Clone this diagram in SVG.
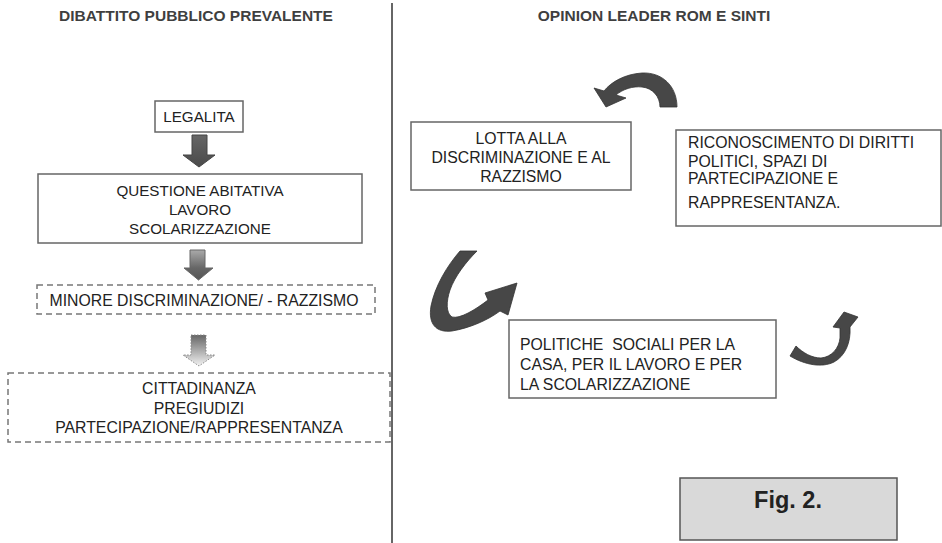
<svg xmlns="http://www.w3.org/2000/svg" width="942" height="543" viewBox="0 0 942 543">
<defs>
<style>
.t{font-family:"Liberation Sans",Arial,sans-serif;font-size:15.8px;fill:#222}
.s{font-size:15.2px}
.c{text-anchor:middle}
.h{font-family:"Liberation Sans",Arial,sans-serif;font-size:15.5px;font-weight:bold;fill:#3f3f3f}
.box{fill:#fff;stroke:#666;stroke-width:1.5}
.dbox{fill:#fff;stroke:#777;stroke-width:1.5;stroke-dasharray:6 4}
.curve{fill:#474747;stroke:#333;stroke-width:0.8}
</style>
<linearGradient id="g1" x1="0" y1="0" x2="0" y2="1"><stop offset="0" stop-color="#666"/><stop offset="1" stop-color="#4a4a4a"/></linearGradient>
<linearGradient id="g2" x1="0" y1="0" x2="0" y2="1"><stop offset="0" stop-color="#aaa"/><stop offset="0.6" stop-color="#666"/><stop offset="1" stop-color="#555"/></linearGradient>
<linearGradient id="g3" x1="0" y1="0" x2="0" y2="1"><stop offset="0" stop-color="#666"/><stop offset="1" stop-color="#f2f2f2"/></linearGradient>
</defs>
<rect width="942" height="543" fill="#fff"/>
<line x1="392" y1="3" x2="392" y2="543" stroke="#333" stroke-width="1.5"/>
<text class="h" x="196" y="21" text-anchor="middle">DIBATTITO PUBBLICO PREVALENTE</text>
<text class="h" x="654" y="21" text-anchor="middle">OPINION LEADER ROM E SINTI</text>

<g id="connectors">
<path d="M192 135 H207 V155 H215 L199 167 L183 155 H192 Z" fill="url(#g1)" stroke="#444" stroke-width="1"/>
<path d="M190 250 H205 V268 H213 L198.5 280 L184 268 H190 Z" fill="url(#g2)" stroke="#666" stroke-width="1"/>
<path d="M191 335 H206 V355 H215 L199 366 L183 355 H191 Z" fill="url(#g3)" stroke="#888" stroke-width="1" stroke-dasharray="1.5 1.5"/>
<path class="curve" d="M677 107 C677 86 662 72 642 73 C625 74 611 82 604 91 L594 88 L606 107 L626 98 L616 95 C623 89 633 86 642 87 C653 88 660 97 660 107 Z"/>
<path class="curve" d="M477 251 C466 262 455 276 450 290 C446 302 446 313 452 317 C460 319 475 310 488 300 L485 293 L517 283 L508 315 L500 311 C488 320 470 328 452 331 C436 333 428 324 431 306 C435 286 447 266 460 251 Z"/>
<path class="curve" d="M796 346 C803 353 812 358 821 358 C832 357 839 348 840 338 L840 328 L833 327 L844 312 L858 317 L850 327 C851 343 845 356 834 362 C822 368 805 365 790 356 Z"/>
</g>

<g id="legalita">
<rect class="box" x="155" y="101" width="88" height="31"/>
<text class="t s c" x="199" y="122">LEGALITA</text>
</g>
<g id="questione">
<rect class="box" x="38" y="174" width="324" height="69"/>
<text class="t s c" x="200" y="196">QUESTIONE ABITATIVA</text>
<text class="t s c" x="200" y="215">LAVORO</text>
<text class="t s c" x="200" y="234">SCOLARIZZAZIONE</text>
</g>
<g id="minore">
<rect class="dbox" x="37" y="285" width="338" height="29"/>
<text class="t c" x="204" y="306">MINORE DISCRIMINAZIONE/ - RAZZISMO</text>
</g>
<g id="cittadinanza">
<rect class="dbox" x="8" y="373" width="382" height="69"/>
<text class="t c" x="199" y="394">CITTADINANZA</text>
<text class="t c" x="199" y="414">PREGIUDIZI</text>
<text class="t c" x="199" y="433">PARTECIPAZIONE/RAPPRESENTANZA</text>
</g>

<g id="lotta">
<rect class="box" x="411" y="122" width="220" height="68"/>
<text class="t c" x="521" y="144">LOTTA ALLA</text>
<text class="t c" x="521" y="163">DISCRIMINAZIONE E AL</text>
<text class="t c" x="521" y="182">RAZZISMO</text>
</g>
<g id="riconoscimento">
<rect class="box" x="676" y="130" width="265" height="96"/>
<text class="t" x="688" y="148">RICONOSCIMENTO DI DIRITTI</text>
<text class="t" x="688" y="166.5">POLITICI, SPAZI DI</text>
<text class="t" x="688" y="184">PARTECIPAZIONE E</text>
<text class="t" x="688" y="207.5">RAPPRESENTANZA.</text>
</g>
<g id="politiche">
<rect class="box" x="509" y="320" width="267" height="78"/>
<text class="t" x="520" y="350" xml:space="preserve">POLITICHE  SOCIALI PER LA</text>
<text class="t" x="520" y="370">CASA, PER IL LAVORO E PER</text>
<text class="t" x="520" y="390">LA SCOLARIZZAZIONE</text>
</g>
<g id="fig">
<rect x="680" y="478" width="217" height="62" fill="#d9d9d9" stroke="#555" stroke-width="1.5"/>
<text x="788" y="508" text-anchor="middle" font-family="'Liberation Sans',Arial,sans-serif" font-size="23.5" font-weight="bold" fill="#222">Fig. 2.</text>
</g>
</svg>
